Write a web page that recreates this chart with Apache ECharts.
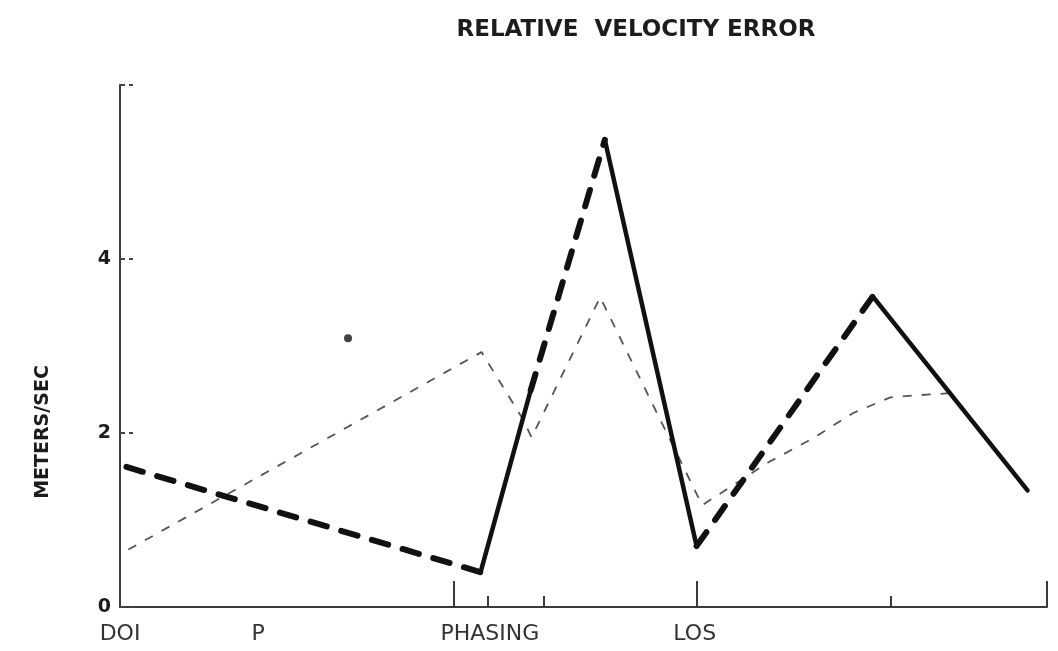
<!DOCTYPE html>
<html>
<head>
<meta charset="utf-8">
<script src="https://cdn.jsdelivr.net/npm/echarts@6/dist/echarts.min.js"></script>
<style>html,body{margin:0;padding:0;background:#fff;}#c{width:1058px;height:651px;}</style>
</head>
<body>
<div id="c"></div>
<script>
// ---- data ----
const titleText = 'RELATIVE  VELOCITY ERROR';
const yAxisTitle = 'METERS/SEC';
const yTickValues = [0, 2, 4, 6];
const yLabelShown = [0, 2, 4];
const xLabelPos = [0, 14.9, 39.9, 62.0];
const xLabelText = ['DOI', 'P', 'PHASING', 'LOS'];
const xTickLong = [36.0, 62.2, 100];
const xTickShort = [39.7, 45.7, 83.1];
// heavy line: alternating dashed / solid segments between successive points
const heavyX = [0.7, 38.9, 44.3, 52.3, 62.2, 81.2, 97.9];
const heavyY = [1.61, 0.40, 2.49, 5.37, 0.70, 3.57, 1.34];
// light dashed line
const lightX = [0.9, 39.0, 43.4, 44.4, 51.8, 62.8, 69.9, 74.6, 79.1, 83.1, 85.5, 89.9];
const lightY = [0.66, 2.93, 2.17, 1.95, 3.56, 1.17, 1.66, 1.93, 2.23, 2.41, 2.43, 2.46];
// isolated dot
const dotX = [24.6];
const dotY = [3.09];

const chart = echarts.init(document.getElementById('c'), null, {renderer: 'canvas'});
const FONT = 'DejaVu Sans';
const INK = '#1c1c1c';

const series = [];
// light dashed line
series.push({
  type: 'line', xAxisIndex: 0, yAxisIndex: 0, symbol: 'none', silent: true,
  data: lightX.map((x, i) => [x, lightY[i]]),
  lineStyle: {color: '#555', width: 1.8, type: [9, 10]}, z: 2
});
// heavy line segments
for (let i = 0; i < heavyX.length - 1; i++) {
  const dashed = i % 2 === 0;
  series.push({
    type: 'line', xAxisIndex: 0, yAxisIndex: 0, symbol: 'none', silent: true,
    data: [[heavyX[i], heavyY[i]], [heavyX[i + 1], heavyY[i + 1]]],
    lineStyle: dashed
      ? {color: '#111', width: 6, type: [17, 15], cap: 'round'}
      : {color: '#111', width: 4.5, type: 'solid', cap: 'round'},
    z: 3
  });
}
// dot
series.push({
  type: 'scatter', xAxisIndex: 0, yAxisIndex: 0, silent: true,
  data: dotX.map((x, i) => [x, dotY[i]]),
  symbolSize: 8, itemStyle: {color: '#111'}, z: 4
});

chart.setOption({
  animation: false,
  backgroundColor: '#fff',
  grid: {left: 120, right: 11, top: 85, bottom: 44, containLabel: false},
  xAxis: [{
    type: 'value', min: 0, max: 100, position: 'bottom',
    splitLine: {show: false},
    axisLine: {show: true, onZero: false, lineStyle: {color: '#3a3a3a', width: 2}},
    axisTick: {show: true, inside: true, length: 26, customValues: xTickLong,
      lineStyle: {color: '#3a3a3a', width: 2}},
    axisLabel: {show: true, customValues: xLabelPos, margin: 16,
      formatter: v => { const i = xLabelPos.indexOf(v); return i >= 0 ? xLabelText[i] : ''; },
      color: '#333', fontFamily: FONT, fontSize: 22}
  }, {
    type: 'value', min: 0, max: 100, position: 'bottom',
    splitLine: {show: false},
    axisLine: {show: false},
    axisTick: {show: true, inside: true, length: 11, customValues: xTickShort,
      lineStyle: {color: '#3a3a3a', width: 2}},
    axisLabel: {show: false}
  }],
  yAxis: [{
    type: 'value', min: 0, max: 6, interval: 2,
    splitLine: {show: false},
    axisLine: {show: true, onZero: false, lineStyle: {color: '#3a3a3a', width: 2}},
    axisTick: {show: true, inside: true, length: 13, customValues: yTickValues,
      lineStyle: {color: '#444', width: 2, type: [5, 4]}},
    axisLabel: {show: true, margin: 9, customValues: yLabelShown,
      formatter: v => String(v),
      color: INK, fontFamily: FONT, fontSize: 19, fontWeight: 'bold'}
  }],
  graphic: [{
    type: 'text', x: 636, y: 30,
    style: {text: titleText, textAlign: 'center', textVerticalAlign: 'middle',
      fill: INK, font: 'bold 23px "' + FONT + '"'}
  }, {
    type: 'text', x: 43, y: 432, rotation: Math.PI / 2,
    style: {text: yAxisTitle, textAlign: 'center', textVerticalAlign: 'middle',
      fill: INK, font: 'bold 19px "' + FONT + '"'}
  }],
  series: series
});
</script>
</body>
</html>
